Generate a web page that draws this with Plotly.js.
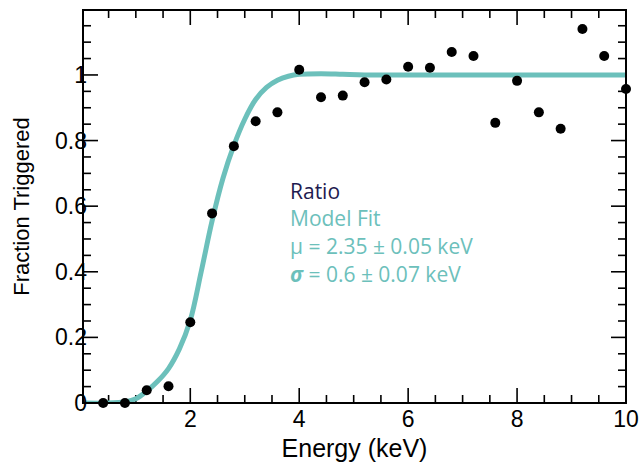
<!DOCTYPE html>
<html>
<head>
<meta charset="utf-8">
<script src="https://cdn.plot.ly/plotly-3.0.1.min.js"></script>
<style>html,body{margin:0;padding:0;background:#fff;}#chart{width:641px;height:462px;}</style>
</head>
<body>
<div id="chart"></div>
<script>
// Measured ratio points
const ratioX = [0.4, 0.8, 1.2, 1.6, 2.0, 2.4, 2.8, 3.2, 3.6, 4.0, 4.4, 4.8, 5.2, 5.6, 6.0, 6.4, 6.8, 7.2, 7.6, 8.0, 8.4, 8.8, 9.2, 9.6, 10.0];
const ratioY = [0.0, 0.0, 0.039, 0.051, 0.246, 0.578, 0.783, 0.859, 0.886, 1.016, 0.932, 0.937, 0.978, 0.986, 1.025, 1.022, 1.070, 1.058, 0.854, 0.982, 0.886, 0.836, 1.140, 1.058, 0.957];

// Model fit curve
const fitX = [0.03, 0.5, 0.8, 1.0, 1.2, 1.4, 1.6, 1.8, 2.0, 2.2, 2.4, 2.6, 2.8, 3.0, 3.2, 3.4, 3.6, 3.8, 4.0, 4.4, 4.8, 5.2, 6.0, 8.0, 10.0];
const fitY = [0.0, 0.0, 0.004, 0.013, 0.036, 0.066, 0.105, 0.165, 0.252, 0.40, 0.555, 0.685, 0.785, 0.865, 0.925, 0.962, 0.984, 0.996, 1.002, 1.004, 1.002, 1.0, 1.0, 1.0, 1.0];

// Tick positions
const xMajorTicks = [2, 4, 6, 8, 10];
const xMinorTicks = [0.5, 1, 1.5, 2.5, 3, 3.5, 4.5, 5, 5.5, 6.5, 7, 7.5, 8.5, 9, 9.5];
const yMajorTicks = [0.2, 0.4, 0.6, 0.8, 1.0];
const yMinorTicks = [0.05, 0.1, 0.15, 0.25, 0.3, 0.35, 0.45, 0.5, 0.55, 0.65, 0.7, 0.75, 0.85, 0.9, 0.95, 1.05, 1.1, 1.15];
const yTickText = ['0', '0.2', '0.4', '0.6', '0.8', '1'];

const labels = ['Ratio', 'Model Fit', 'μ = 2.35 ± 0.05 keV', '<b><i>σ</i></b> = 0.6 ± 0.07 keV'];
const labelColors = ['#1e1b50', '#6cc0bb', '#6cc0bb', '#6cc0bb'];

const teal = '#6cc0bb';
const tickFont = 'Liberation Sans, Arial, sans-serif';
const X_RANGE = [0.03, 10], Y_RANGE = [0, 1.198];
const PLOT_W = 641 - 83 - 15, PLOT_H = 462 - 10 - 59;
const MAJOR = 15, MINOR = 8;

// Inside tick marks on all four sides, built from the tick arrays as one line trace (null-separated)
const pxX = (X_RANGE[1] - X_RANGE[0]) / PLOT_W;
const pxY = (Y_RANGE[1] - Y_RANGE[0]) / PLOT_H;
const tickXs = [], tickYs = [];
function seg(x0, y0, x1, y1) { tickXs.push(x0, x1, null); tickYs.push(y0, y1, null); }
function addX(vals, len) {
  vals.forEach(t => {
    seg(t, Y_RANGE[0], t, Y_RANGE[0] + len * pxY);
    seg(t, Y_RANGE[1], t, Y_RANGE[1] - len * pxY);
  });
}
function addY(vals, len) {
  vals.forEach(t => {
    seg(X_RANGE[0], t, X_RANGE[0] + len * pxX, t);
    seg(X_RANGE[1], t, X_RANGE[1] - len * pxX, t);
  });
}
addX(xMajorTicks, MAJOR); addX(xMinorTicks, MINOR);
addY(yMajorTicks, MAJOR); addY(yMinorTicks, MINOR);

const traces = [
  {x: tickXs, y: tickYs, type: 'scatter', mode: 'lines', connectgaps: false, line: {color: '#000', width: 1.6}, hoverinfo: 'skip', cliponaxis: false},
  {x: fitX, y: fitY, type: 'scatter', mode: 'lines', line: {color: teal, width: 5, shape: 'spline', smoothing: 1}, hoverinfo: 'skip'},
  {x: ratioX, y: ratioY, type: 'scatter', mode: 'markers', marker: {color: '#000', size: 10}, cliponaxis: false}
];

const annotations = labels.map((t, i) => ({
  xref: 'paper', yref: 'paper', x: 0.377, y: 0.54 - i * 0.0705, xanchor: 'left', yanchor: 'middle',
  text: t, showarrow: false, font: {family: 'Open Sans, sans-serif', size: 21, color: labelColors[i]}
}));

const layout = {
  width: 641, height: 462,
  margin: {l: 83, r: 15, t: 10, b: 59},
  showlegend: false,
  xaxis: {
    range: X_RANGE, tickmode: 'array', tickvals: xMajorTicks, ticktext: xMajorTicks.map(String),
    showgrid: false, zeroline: false, showline: false, ticks: '',
    tickfont: {family: tickFont, size: 23, color: '#000'},
    title: {text: 'Energy (keV)', font: {family: tickFont, size: 25, color: '#000'}}
  },
  yaxis: {
    range: Y_RANGE, tickmode: 'array', tickvals: [0].concat(yMajorTicks), ticktext: yTickText,
    showgrid: false, zeroline: false, showline: false, ticks: '', ticklabelstandoff: -5,
    tickfont: {family: tickFont, size: 23, color: '#000'},
    title: {text: 'Fraction Triggered', font: {family: tickFont, size: 22, color: '#000'}}
  },
  shapes: [
    {type: 'rect', xref: 'paper', yref: 'paper', x0: 0, x1: 1, y0: 0, y1: 1, line: {color: '#000', width: 2}}
  ],
  annotations: annotations
};

Plotly.newPlot('chart', traces, layout, {displayModeBar: false});
</script>
</body>
</html>
